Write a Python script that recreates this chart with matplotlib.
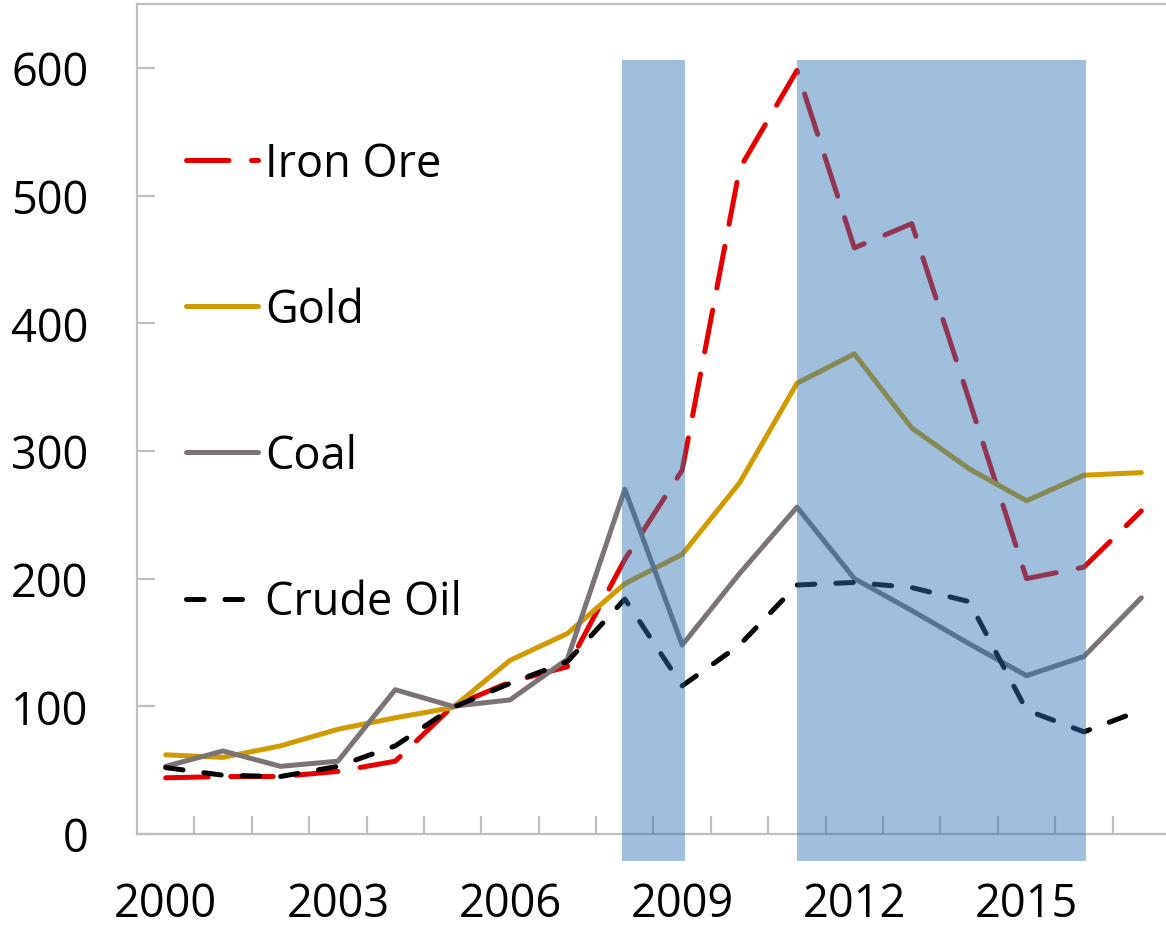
import matplotlib.pyplot as plt
from matplotlib.patches import Rectangle

plt.rcParams['font.family'] = ['Open Sans', 'DejaVu Sans']

# years on the category axis
years = list(range(2000, 2018))
year_labels = [str(y) if (y - 2000) % 3 == 0 else '' for y in years]

# index values (2000 = ~50)
iron_ore = [44, 45, 45, 49, 57, 100, 119, 131, 215, 285, 521, 598, 459, 478, 340, 200, 209, 253]
gold = [62, 60, 69, 82, 91, 99, 136, 157, 196, 219, 275, 353, 376, 318, 286, 261, 281, 283]
coal = [53, 65, 53, 57, 113, 100, 105, 137, 270, 148, 204, 256, 200, 175, 149, 124, 139, 185]
crude_oil = [52, 46, 45, 53, 69, 99, 118, 135, 184, 116, 148, 195, 197, 193, 182, 97, 80, 97]

# shaded periods, in category positions (start, end)
shade_start = [7.95, 11.0]
shade_end = [9.05, 16.03]

fig = plt.figure(figsize=(11.66, 9.28), dpi=100)
ax = fig.add_axes([137 / 1166, 93 / 928, 1033 / 1166, 830 / 928])

x = list(range(len(years)))
lw = 3.6
ax.plot(x, iron_ore, color='#E60000', lw=lw, dashes=(8.5, 4.5), dash_capstyle='round', label='Iron Ore')
ax.plot(x, gold, color='#D09A00', lw=lw, solid_capstyle='round', label='Gold')
ax.plot(x, coal, color='#7B7375', lw=lw, solid_capstyle='round', label='Coal')
ax.plot(x, crude_oil, color='black', lw=lw, dashes=(3.5, 4.2), dash_capstyle='round', label='Crude Oil')

# shaded blocks sit on top of the lines and hang below the axis
for s, e in zip(shade_start, shade_end):
    r = Rectangle((s, -21), e - s, 627, facecolor='#2E75B6', alpha=0.46,
                  edgecolor='none', clip_on=False, zorder=5)
    ax.add_patch(r)

ax.set_xlim(-0.5, 17.5)
ax.set_ylim(0, 650)
ax.set_yticks(range(0, 700, 100))
ax.set_xticks(x)
ax.set_xticklabels(year_labels)
ax.set_xticks([i + 0.5 for i in range(len(years) - 1)], minor=True)

gray = '#BFBFBF'
for side in ['left', 'bottom', 'top']:
    ax.spines[side].set_color(gray)
    ax.spines[side].set_linewidth(1.6)
ax.spines['right'].set_visible(False)

fs = 32.5
ax.tick_params(axis='y', direction='in', length=13, width=1.6, color=gray,
               labelsize=fs, pad=35)
ax.tick_params(axis='x', which='major', length=0, labelsize=fs, pad=34)
ax.tick_params(axis='x', which='minor', direction='in', length=13, width=1.6, color=gray)

leg = ax.legend(loc='upper left', bbox_to_anchor=(0.03, 0.857), frameon=False,
                fontsize=fs, handlelength=1.6, handletextpad=0.15,
                labelspacing=2.22, borderaxespad=0)

fig.savefig('out.png', dpi=100)
